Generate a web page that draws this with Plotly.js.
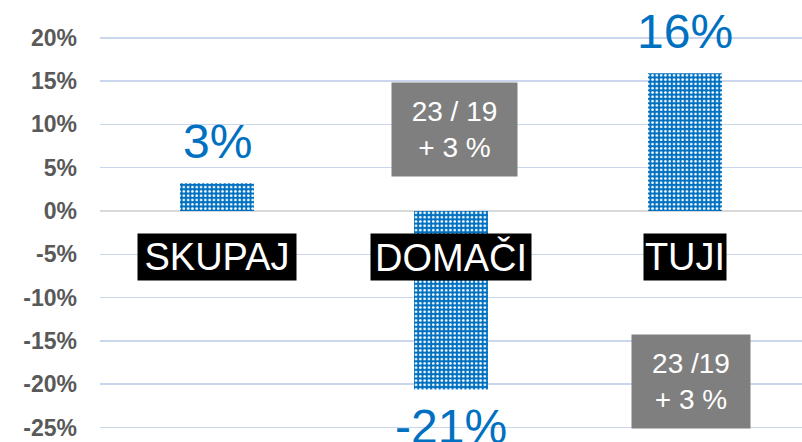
<!DOCTYPE html>
<html>
<head>
<meta charset="utf-8">
<script src="https://cdn.plot.ly/plotly-3.0.1.min.js"></script>
<style>html,body{margin:0;padding:0;background:#fff;}#chart{width:802px;height:442px;}</style>
</head>
<body>
<div id="chart"></div>
<script>
// Data
const categories = ["SKUPAJ", "DOMAČI", "TUJI"];
const values = [3.2, -20.6, 15.9];
const valueLabels = ["3%", "-21%", "16%"];
const noteCategories = ["DOMAČI", "TUJI"];
const noteTexts = ["23 / 19<br>+ 3 %", "23 /19<br>+ 3 %"];
const noteY = [9.4, -19.7];
const yTickVals = [-25, -20, -15, -10, -5, 0, 5, 10, 15, 20];
const yTickText = ["-25%", "-20%", "-15%", "-10%", "-5%", "0%", "5%", "10%", "15%", "20%"];

const FONT = "'Liberation Sans', Arial, sans-serif";
const BLUE = "#0070c0";

const trace = {
  type: "bar",
  x: categories,
  y: values,
  marker: {
    color: BLUE,
    line: {width: 0},
    pattern: {shape: ".", fgcolor: "#ffffff", bgcolor: BLUE, size: 4.3, solidity: 0.3}
  },
  hoverinfo: "skip"
};

const annotations = [];
const catWidths = [158, 160, 82];
categories.forEach((c, i) => {
  annotations.push({
    x: c, y: -5.3, xref: "x", yref: "y",
    text: c, showarrow: false,
    font: {family: FONT, size: 38, color: "#ffffff"},
    bgcolor: "#000000", borderpad: 0,
    width: catWidths[i], height: 46,
    xanchor: "center", yanchor: "middle"
  });
});
values.forEach((v, i) => {
  annotations.push({
    x: categories[i], y: v, xref: "x", yref: "y",
    text: valueLabels[i], showarrow: false,
    font: {family: FONT, size: 48, color: BLUE},
    yshift: v >= 0 ? 42 : -37,
    xanchor: "center", yanchor: "middle"
  });
});
const noteW = [125, 118];
const noteShift = [3, 6];
noteTexts.forEach((t, i) => {
  annotations.push({
    x: noteCategories[i], y: noteY[i], xref: "x", yref: "y",
    text: t, showarrow: false,
    font: {family: FONT, size: 28, color: "#ffffff"},
    bgcolor: "#7f7f7f", borderpad: 0,
    width: noteW[i], height: 93,
    xshift: noteShift[i],
    xanchor: "center", yanchor: "middle", align: "center"
  });
});

const layout = {
  width: 802, height: 442,
  margin: {l: 100, r: 0, t: 0, b: 0, pad: 0},
  paper_bgcolor: "#ffffff", plot_bgcolor: "#ffffff",
  showlegend: false,
  bargap: 0.684,
  font: {family: FONT},
  xaxis: {
    type: "category", range: [-0.5, 2.5],
    showticklabels: false, showgrid: false, zeroline: false, showline: false, ticks: ""
  },
  yaxis: {
    range: [-26.67, 24.36],
    tickvals: yTickVals, ticktext: yTickText,
    tickfont: {family: FONT, size: 23, color: "#595959", weight: "bold"},
    showgrid: true, gridcolor: "#c9d6ec", gridwidth: 1.5,
    zeroline: true, zerolinecolor: "#d9d9d9", zerolinewidth: 2.5,
    showline: false, ticks: "", ticklabelstandoff: 22
  },
  annotations: annotations
};

Plotly.newPlot("chart", [trace], layout, {displayModeBar: false, staticPlot: true});
</script>
</body>
</html>
